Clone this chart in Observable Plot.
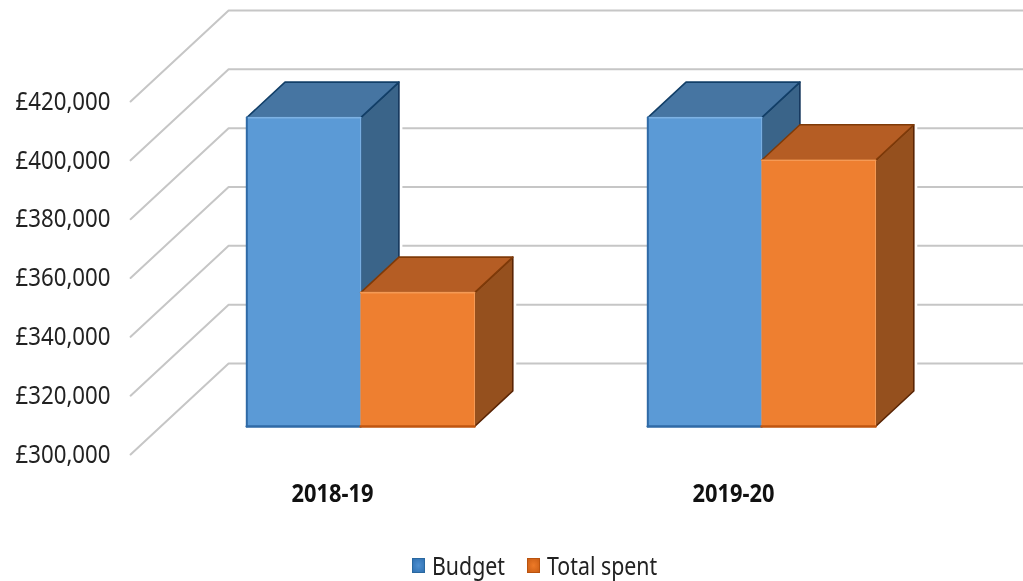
<!DOCTYPE html>
<html><head><meta charset="utf-8">
<script src="https://cdn.jsdelivr.net/npm/d3@7"></script>
<script src="https://cdn.jsdelivr.net/npm/@observablehq/plot@0.6"></script>
<style>
html,body{margin:0;background:#fff;overflow:hidden}
svg{display:block}
#chart,#legend{filter:blur(0.45px)}
#legend{position:relative;height:41px;font:26px "Noto Sans",sans-serif;color:#222}
#legend span{position:absolute;top:8px;line-height:34px;white-space:nowrap;transform:scaleX(0.82);transform-origin:left center}
#legend i{position:absolute;top:18px;width:13px;height:15px}
</style></head><body>
<div id="chart"></div>
<div id="legend"></div>
<script>
const years = ["2018-19", "2019-20"];
const budget = [405000, 405000];
const totalSpent = [345500, 390500];
const seriesNames = ["Budget", "Total spent"];
const yTicks = [300000, 320000, 340000, 360000, 380000, 400000, 420000];
const baseline = 300000;

// pseudo-3D projection: one unit of depth moves a point right and up
const depthX = 0.2444, depthY = 30940;
const barFront = 0.308, barBack = 0.698, barWidth = 0.284;
const project = (u, v, d) => ({x: u + d * depthX, y: v + d * depthY});

const palette = [
  {front:"#5b9ad6", side:"#3a6489", top:"#4675a2", light:"#7db2e4", bottom:"#2f6aa6", sideEdge:"#12345a", topEdge:"#123f68"},
  {front:"#ee7f30", side:"#95501e", top:"#b55d24", light:"#f59a55", bottom:"#c0550f", sideEdge:"#5a2505", topEdge:"#7f3a08"}
];

function poly(pts, fill, stroke, w) {
  return Plot.line([...pts, pts[0]], {x:"x", y:"y", fill, stroke, strokeWidth:w, strokeLinejoin:"round", curve:"linear"});
}
function bar(u0, u1, v, c, leftEdge) {
  const P = project;
  const side = [P(u1,baseline,barFront),P(u1,v,barFront),P(u1,v,barBack),P(u1,baseline,barBack)];
  const top = [P(u0,v,barFront),P(u1,v,barFront),P(u1,v,barBack),P(u0,v,barBack)];
  const front = [P(u0,baseline,barFront),P(u0,v,barFront),P(u1,v,barFront),P(u1,baseline,barFront)];
  const edge = (a, b, stroke, strokeWidth) => Plot.line([a, b], {x:"x", y:"y", stroke, strokeWidth});
  return {
    halo: poly(side, "white", "white", 7),
    faces: [
      poly(side, c.side, c.sideEdge, 1.6),
      poly(top, c.top, c.topEdge, 1.6),
      poly(front, c.front, c.front, 0.5),
      edge(P(u0,v,barFront), P(u1,v,barFront), c.light, 1.6),
      edge(P(u1,v,barFront), P(u1,baseline,barFront), c.light, 1.2),
      ...(leftEdge ? [edge(P(u0,v,barFront), P(u0,baseline,barFront), c.bottom, 2)] : []),
      edge(P(u0,baseline,barFront), P(u1,baseline,barFront), c.bottom, 2.5)
    ]
  };
}

const grid = yTicks.map(t => Plot.line(
  [project(-0.4985, t, 0), project(-0.4985, t, 1), project(1.8, t, 1)],
  {x:"x", y:"y", stroke:"#c6c6c6", strokeWidth:2}));

const bars = years.flatMap((_, i) => [
  bar(i - barWidth, i, budget[i], palette[0], true),
  bar(i, i + barWidth, totalSpent[i], palette[1], false)
]);

const plot = Plot.plot({
  width: 1023, height: 540,
  marginLeft: 110, marginBottom: 60, marginTop: 0, marginRight: 0,
  style: {fontFamily:'"Noto Sans",sans-serif', background:"#fff"},
  x: {domain:[0,1], range:[330,731]},
  y: {domain:[300000,420000], range:[454,101]},
  marks: [
    ...grid,
    ...bars.map(b => b.halo),
    ...bars.flatMap(b => b.faces),
    Plot.axisY({ticks: yTicks, tickSize:0, tickPadding:0, label:null, fontSize:26, fill:"#222",
      tickFormat: d => "£" + d3.format(",")(d)}),
    Plot.axisX({ticks:[0,1], tickSize:0, tickPadding:0, label:null, fontSize:25, fontWeight:"bold", fill:"#111", dx:2, dy:4,
      tickFormat: d => years[d]})
  ]
});
document.getElementById("chart").append(plot);

// the reference face is a condensed one: fit the tick labels to its widths
const fit = (axis, w) => plot.querySelectorAll(`[aria-label="${axis}-axis tick label"] text`).forEach(t => {
  t.setAttribute("textLength", w);
  t.setAttribute("lengthAdjust", "spacingAndGlyphs");
});
fit("y", 95);
fit("x", 82);

const legend = document.getElementById("legend");
const swatches = [
  {x:412, tx:432, g:"radial-gradient(#4f90d0,#2a6cae)", b:"#2a689f"},
  {x:527, tx:547, g:"radial-gradient(#ee7a28,#c65a12)", b:"#b9530f"}
];
seriesNames.forEach((name, i) => {
  const s = swatches[i];
  const sw = document.createElement("i");
  sw.style.cssText = `left:${s.x}px;background:${s.g};box-shadow:inset 0 0 0 1px ${s.b}`;
  const t = document.createElement("span");
  t.style.left = s.tx + "px";
  t.textContent = name;
  legend.append(sw, t);
});
</script>
</body></html>
